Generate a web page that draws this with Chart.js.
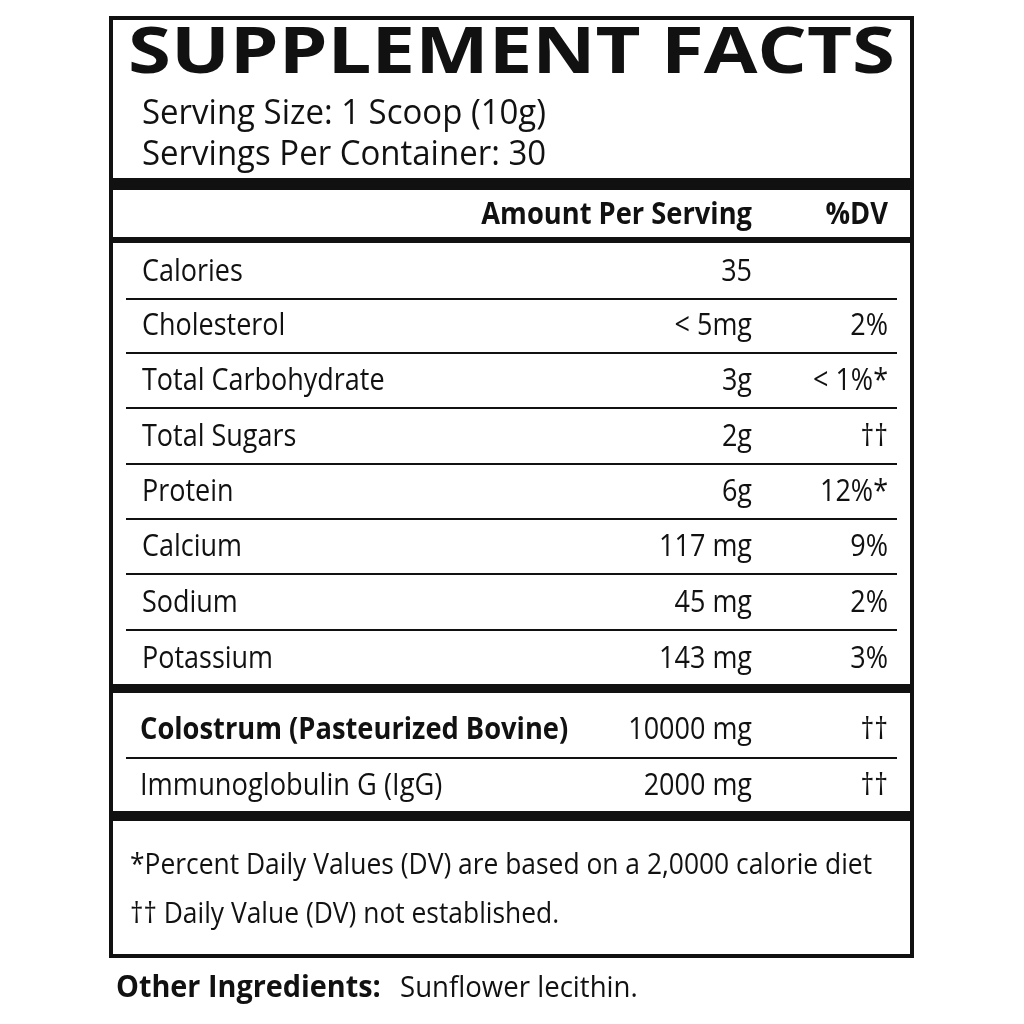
<!DOCTYPE html>
<html><head><meta charset="utf-8">
<script src="https://cdn.jsdelivr.net/npm/chart.js@4"></script>
<style>html,body{margin:0;padding:0;background:#fff}#w{width:1024px;height:1024px}</style>
</head><body><div id="w"><canvas id="c"></canvas></div>
<script>
const title = "SUPPLEMENT FACTS";
const servingLines = ["Serving Size: 1 Scoop (10g)", "Servings Per Container: 30"];
const headers = ["Amount Per Serving", "%DV"];
const nutrients = ["Calories","Cholesterol","Total Carbohydrate","Total Sugars","Protein","Calcium","Sodium","Potassium"];
const amounts = ["35","< 5mg","3g","2g","6g","117 mg","45 mg","143 mg"];
const dvs = ["","2%","< 1%*","††","12%*","9%","2%","3%"];
const blendNames = ["Colostrum (Pasteurized Bovine)","Immunoglobulin G (IgG)"];
const blendAmounts = ["10000 mg","2000 mg"];
const blendDv = ["††","††"];
const footnotes = ["*Percent Daily Values (DV) are based on a 2,0000 calorie diet","†† Daily Value (DV) not established."];
const otherLabel = "Other Ingredients:";
const otherText = "Sunflower lecithin.";

const F = "'Open Sans', 'DejaVu Sans', sans-serif";
function txt(ctx, s, x, y, size, bold, align, cond){
  ctx.save();
  ctx.font = (bold? "bold ":"") + size + "px " + F;
  ctx.textBaseline = "middle";
  ctx.fillStyle = "#111";
  ctx.translate(x, y); ctx.scale(cond || 0.87, 1);
  ctx.textAlign = align || "left";
  ctx.fillText(s, 0, 0);
  ctx.restore();
}
const labelPlugin = {
  id: 'label',
  afterDraw(chart){
    const ctx = chart.ctx, ys = chart.scales.y, xs = chart.scales.x;
    const X = v => xs.getPixelForValue(v), Y = v => ys.getPixelForValue(v);
    ctx.save();
    ctx.fillStyle = "#fff"; ctx.fillRect(0,0,1024,1024);
    ctx.strokeStyle = "#111"; ctx.fillStyle = "#111";
    ctx.lineWidth = 4;
    ctx.strokeRect(X(111), Y(18), X(912)-X(111), Y(956)-Y(18));
    const bar = (y,h)=>{ctx.fillStyle="#111";ctx.fillRect(X(111),Y(y),X(912)-X(111),h);};
    const thin = (y)=>{ctx.fillStyle="#111";ctx.fillRect(X(126),Y(y),X(897)-X(126),2);};
    ctx.save();
    ctx.font = "bold 64px " + F; ctx.textBaseline="middle"; ctx.fillStyle="#111";
    const w = ctx.measureText(title).width;
    ctx.translate(X(128), Y(55)); ctx.scale(767/w, 1); ctx.fillText(title,0,0);
    ctx.restore();
    txt(ctx, servingLines[0], X(142), Y(114), 34, false, "left", 0.97);
    txt(ctx, servingLines[1], X(142), Y(155), 34, false, "left", 0.97);
    bar(178, 12);
    txt(ctx, headers[0], X(752), Y(215), 31, true, "right", 0.88);
    txt(ctx, headers[1], X(888), Y(215), 31, true, "right", 0.88);
    bar(237, 6);
    const rowY = [272,326,381,437,492,547,603,659];
    nutrients.forEach((n,i)=>{
      txt(ctx, n, X(142), Y(rowY[i]), 31, false);
      txt(ctx, amounts[i], X(752), Y(rowY[i]), 31, false, "right");
      txt(ctx, dvs[i], X(888), Y(rowY[i]), 31, false, "right");
      if(i<nutrients.length-1) thin(rowY[i]+26);
    });
    bar(684, 9);
    const bY = [730,786];
    blendNames.forEach((n,i)=>{
      txt(ctx, n, X(140), Y(bY[i]), 31, i===0, "left", 0.88);
      txt(ctx, blendAmounts[i], X(752), Y(bY[i]), 31, false, "right");
      txt(ctx, blendDv[i], X(888), Y(bY[i]), 31, false, "right");
    });
    thin(757);
    bar(811, 10);
    txt(ctx, footnotes[0], X(130), Y(865), 30, false, "left", 0.88);
    txt(ctx, footnotes[1], X(130), Y(914), 30, false, "left", 0.88);
    txt(ctx, otherLabel, X(116), Y(988), 30, true, "left", 0.96);
    txt(ctx, otherText, X(400), Y(988), 30, false, "left", 0.92);
    ctx.restore();
  }
};
new Chart(document.getElementById('c'), {
  type: 'scatter',
  data: { datasets: [{ data: [] }] },
  options: {
    responsive: true, maintainAspectRatio: false, animation: false,
    layout: { padding: 0 },
    plugins: { legend: { display: false }, tooltip: { enabled: false } },
    scales: {
      x: { type: 'linear', min: 0, max: 1024, display: false },
      y: { type: 'linear', min: 0, max: 1024, reverse: true, display: false }
    }
  },
  plugins: [labelPlugin]
});
</script></body></html>
